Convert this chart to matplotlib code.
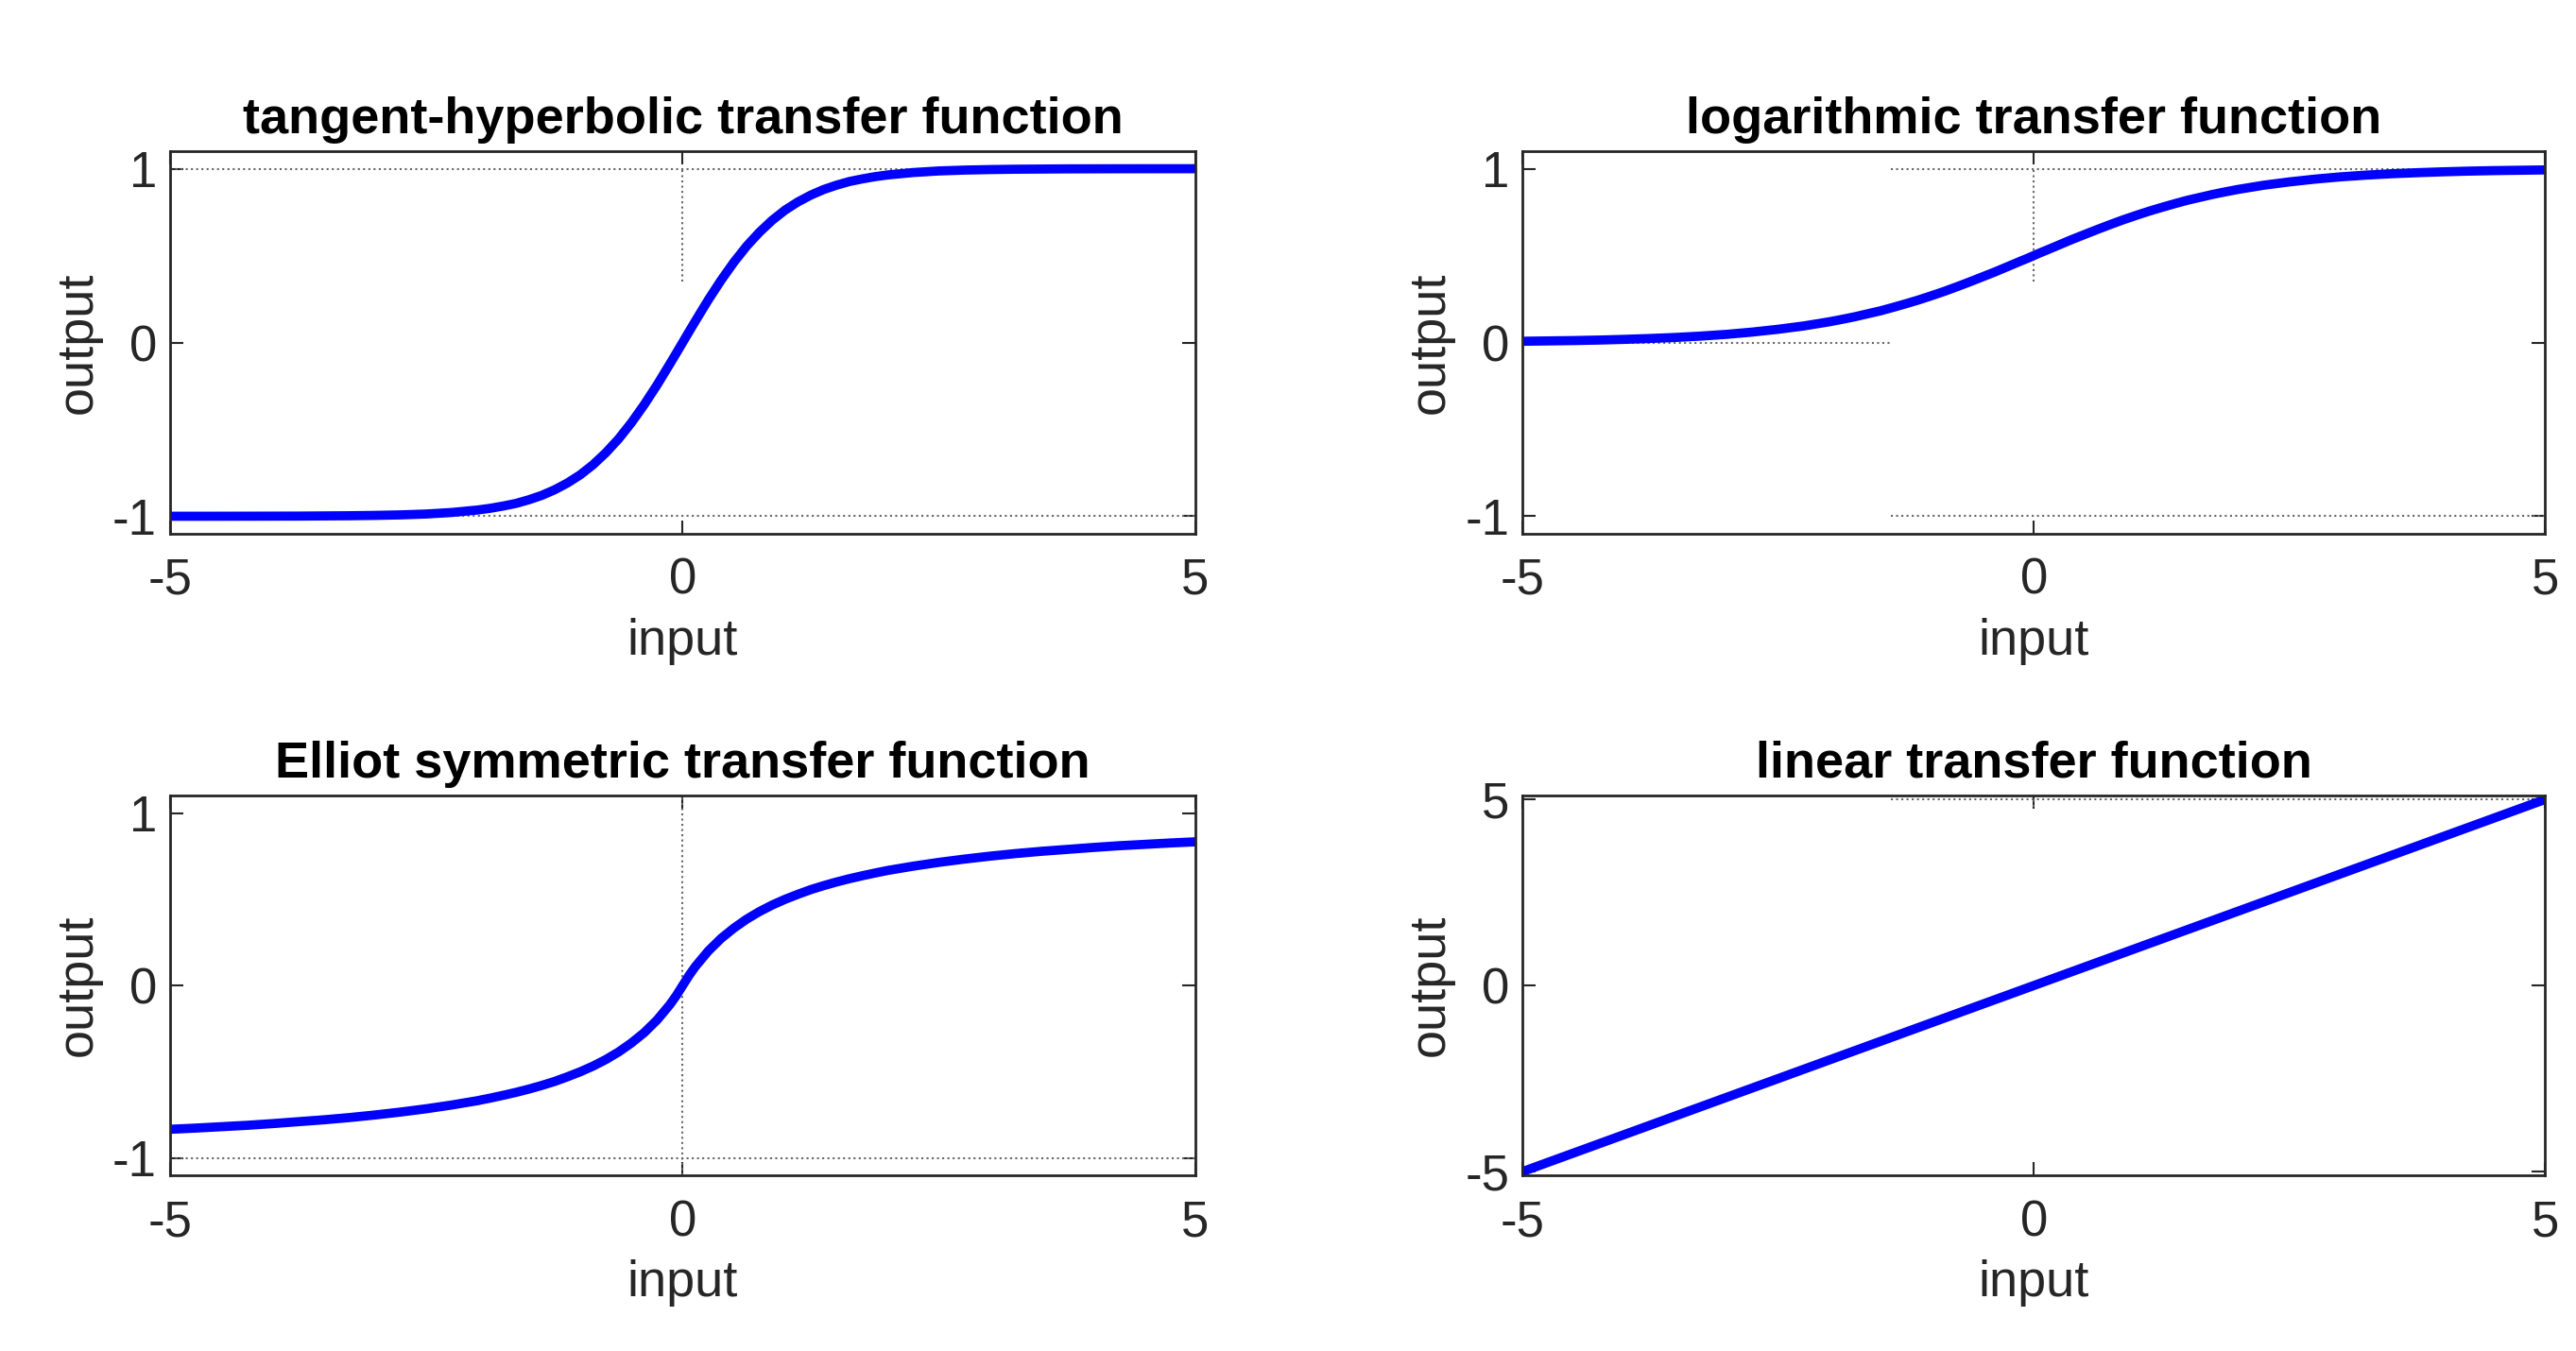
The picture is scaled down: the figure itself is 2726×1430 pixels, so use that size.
import matplotlib.pyplot as plt

plt.rcParams['font.family'] = ['Liberation Sans', 'DejaVu Sans']
plt.rcParams['axes.unicode_minus'] = False

# sampled curve values for x >= 0 (negative half mirrored below)
x_pos = [0, 0.0625, 0.125, 0.25, 0.375, 0.5, 0.625, 0.75, 0.875, 1, 1.125, 1.25, 1.375,
         1.5, 1.625, 1.75, 1.875, 2, 2.25, 2.5, 2.75, 3, 3.25, 3.5, 3.75, 4, 4.25,
         4.5, 4.75, 5]
tanh_pos = [0, .0624, .124, .245, .358, .462, .555, .635, .704, .762, .809, .848, .880,
            .905, .926, .941, .954, .964, .978, .987, .992, .995, .997, .998, .999,
            .9993, .9996, .9998, .9999, .9999]
logsig_pos = [.5, .516, .531, .562, .593, .622, .651, .679, .706, .731, .755, .777, .798,
              .818, .835, .852, .867, .881, .905, .924, .940, .953, .963, .971, .977,
              .982, .986, .989, .991, .993]
elliot_pos = [0, .0588, .111, .2, .273, .333, .385, .429, .467, .5, .529, .556, .579,
              .6, .619, .636, .652, .667, .692, .714, .733, .75, .765, .778, .789, .8,
              .81, .818, .826, .833]
lin_x = [-5, 5]
lin_y = [-5, 5]

x_all = [-v for v in x_pos[:0:-1]] + x_pos
tanh_y = [-v for v in tanh_pos[:0:-1]] + tanh_pos
logsig_y = [1 - v for v in logsig_pos[:0:-1]] + logsig_pos
elliot_y = [-v for v in elliot_pos[:0:-1]] + elliot_pos

fig = plt.figure(figsize=(27.26, 14.30), dpi=100)
boxes = [[0.066, 0.605, 0.398, 0.283], [0.591, 0.605, 0.397, 0.283],
         [0.066, 0.130, 0.398, 0.281], [0.591, 0.130, 0.397, 0.281]]
titles = ['tangent-hyperbolic transfer function', 'logarithmic transfer function',
          'Elliot symmetric transfer function', 'linear transfer function']
curves = [(x_all, tanh_y), (x_all, logsig_y), (x_all, elliot_y), (lin_x, lin_y)]
# thin grey guide segments (x0, x1, y0, y1)
guides = [
    [(-5, 5, 1, 1), (-5, 5, -1, -1), (0, 0, 0.35, 1)],
    [(-1.4, 5, 1, 1), (-5, -1.4, 0, 0), (-1.4, 5, -1, -1), (0, 0, 0.35, 1)],
    [(0, 0, -1.1, 1.1), (-5, 5, -1, -1)],
    [(-1.4, 5, 5, 5), (0, 0, 4.8, 5)],
]
ylims = [(-1.1, 1.1), (-1.1, 1.1), (-1.1, 1.1), (-5.1, 5.1)]
yticks = [[-1, 0, 1], [-1, 0, 1], [-1, 0, 1], [-5, 0, 5]]

for box, title, (cx, cy), gl, yl, yt in zip(boxes, titles, curves, guides, ylims, yticks):
    ax = fig.add_axes(box)
    for x0, x1, y0, y1 in gl:
        ax.plot([x0, x1], [y0, y1], color='#666666', lw=1.5, ls=':')
    ax.plot(cx, cy, color='#0000ff', lw=7)
    ax.set_xlim(-5, 5)
    ax.set_ylim(*yl)
    ax.set_xticks([-5, 0, 5])
    ax.set_yticks(yt)
    ax.tick_params(labelsize=38, direction='in', length=10, width=1.5,
                   top=True, right=True, colors='#262626')
    ax.tick_params(axis='x', pad=18)
    ax.tick_params(axis='y', pad=10)
    for s in ax.spines.values():
        s.set_linewidth(2)
        s.set_color('#262626')
    ax.set_title(title, fontsize=39, fontweight='bold', pad=14)
    ax.set_xlabel('input', fontsize=39, color='#262626', labelpad=10)
    ax.set_ylabel('output', fontsize=39, color='#262626', labelpad=8)

fig.savefig('out.png', dpi=100, facecolor='white')
